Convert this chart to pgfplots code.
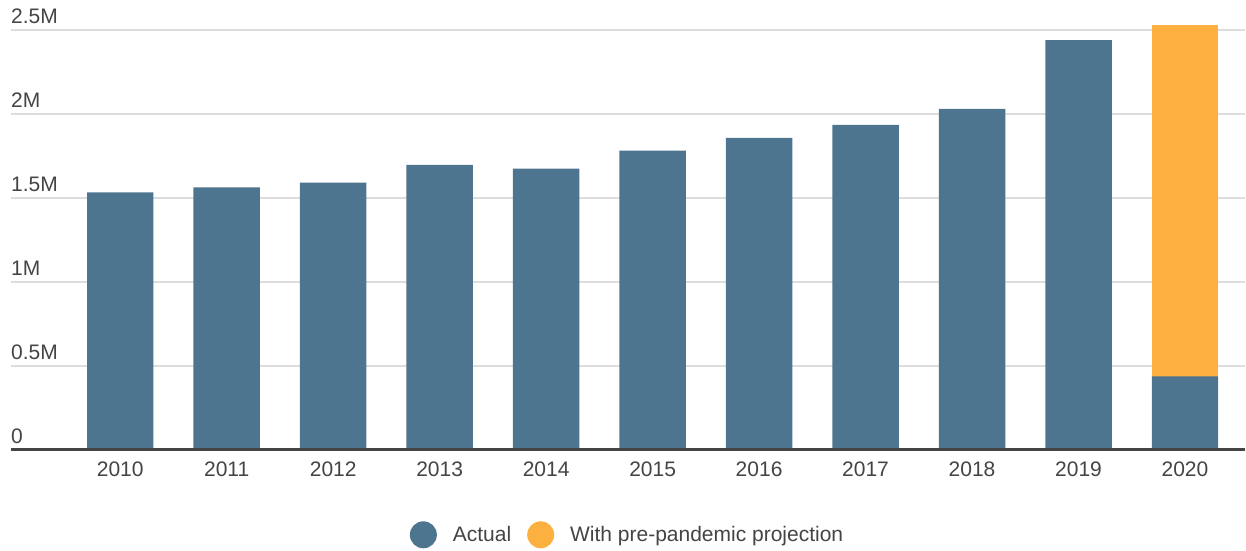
\documentclass[border=0pt]{standalone}
\usepackage{pgfplots}
\pgfplotsset{compat=1.18}
\usepackage{fontspec}
\setmainfont{Liberation Sans}
\definecolor{cActual}{HTML}{4E7590}
\definecolor{cProj}{HTML}{FBB040}
\definecolor{cText}{HTML}{444444}
\definecolor{cGrid}{HTML}{DDDDDD}
\definecolor{cBase}{HTML}{444444}
\newcommand\lab{\fontsize{21}{24}\selectfont}
\begin{document}
\begin{tikzpicture}
\path (-11pt,-98pt) rectangle (1235pt,450pt);
\begin{axis}[
  at={(0,0)}, anchor=south west,
  scale only axis,
  width=1234pt, height=420pt,
  xmin=-1.026, xmax=10.559,
  ymin=0, ymax=2.5,
  clip=false,
  ybar, bar width=66.5pt,
  axis line style={draw=none},
  major tick length=0pt,
  tick style={draw=none},
  /pgf/number format/assume math mode=true,
  xtick={0,1,2,3,4,5,6,7,8,9,10},
  xticklabels={2010,2011,2012,2013,2014,2015,2016,2017,2018,2019,2020},
  ytick={0,0.5,1,1.5,2,2.5},
  yticklabels={0,0.5M,1M,1.5M,2M,2.5M},
  ymajorgrids,
  grid style={cGrid, line width=1.5pt},
  ticklabel style={font=\lab, text=cText},
  xticklabel style={anchor=north, inner sep=0pt, yshift=-12pt},
  yticklabel style={anchor=south west, inner sep=0pt, yshift=6pt},
  legend image code/.code={\fill[#1] (13.5pt,0pt) circle (13.5pt);},
  legend style={at={(0.5055,-0.2024)}, anchor=center, draw=none, fill=none,
    legend columns=-1, font=\lab, text=cText,
    /tikz/every even column/.append style={column sep=0pt},
    nodes={inner xsep=16pt}},
]
\addlegendimage{fill=cActual, draw=none}
\addlegendentry{Actual}
\addlegendimage{fill=cProj, draw=none}
\addlegendentry{With pre-pandemic projection}
% pre-pandemic projection (2020 total)
\addplot[forget plot, fill=cProj, draw=none, bar shift=0pt] coordinates {(10,2.527)};
% actual
\addplot[forget plot, fill=cActual, draw=none, bar shift=0pt] coordinates {
(0,1.533) (1,1.563) (2,1.591) (3,1.697) (4,1.675) (5,1.782)
(6,1.858) (7,1.935) (8,2.030) (9,2.439) (10,0.437)};
\draw[cBase, line width=3pt] (rel axis cs:0,0) -- (rel axis cs:1,0);
\end{axis}
\end{tikzpicture}
\end{document}
